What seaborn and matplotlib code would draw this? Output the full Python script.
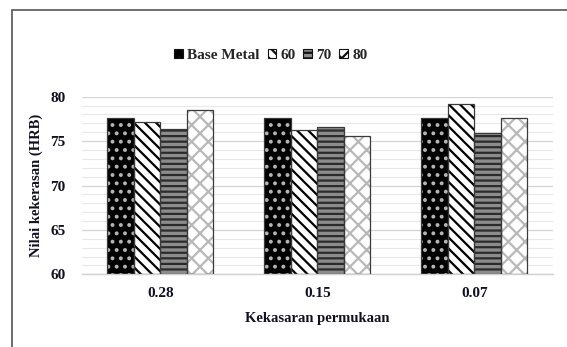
import matplotlib
matplotlib.use("Agg")
import matplotlib.pyplot as plt
from matplotlib.patches import Patch, Rectangle
from matplotlib.ticker import MultipleLocator
import seaborn as sns
import pandas as pd

# Surface roughness groups and hardness (HRB) per series
roughness = ["0.28", "0.15", "0.07"]
series = ["Base Metal", "60", "70", "80"]
base_metal = [77.6, 77.6, 77.6]
s60 = [77.2, 76.2, 79.2]
s70 = [76.4, 76.6, 75.9]
s80 = [78.5, 75.6, 77.6]

values = {"Base Metal": base_metal, "60": s60, "70": s70, "80": s80}
rows = []
for name in series:
    for r, v in zip(roughness, values[name]):
        rows.append({"Kekasaran": r, "Seri": name, "HRB": v})
df = pd.DataFrame(rows)

sns.set_style("white")
plt.rcParams["font.family"] = ["Liberation Serif", "DejaVu Serif"]
plt.rcParams["font.weight"] = "bold"
plt.rcParams["hatch.linewidth"] = 1.6

# fill colour, hatch pattern, hatch colour for each series
styles = {
    "Base Metal": ("#000000", "..", "#b5b5b5"),
    "60": ("#ffffff", "\\\\\\", "#000000"),
    "70": ("#8c8c8c", "---", "#2b2b2b"),
    "80": ("#ffffff", "xx", "#b8b8b8"),
}
text_color = "#111122"

fig = plt.figure(figsize=(5.67, 3.47), dpi=100)
ax = fig.add_axes([0.1446, 0.2095, 0.8304, 0.5118])

sns.barplot(data=df, x="Kekasaran", y="HRB", hue="Seri", order=roughness,
            hue_order=series, width=0.675, ax=ax, legend=False,
            errorbar=None)

ax.set_ylim(60, 80)
ax.yaxis.set_major_locator(MultipleLocator(5))
ax.yaxis.set_minor_locator(MultipleLocator(1))
ax.grid(which="major", axis="y", color="#d4d4d4", lw=0.9)
ax.grid(which="minor", axis="y", color="#e8e8e8", lw=0.8)
ax.set_axisbelow(True)

for name, cont in zip(series, ax.containers):
    fc, hatch, hc = styles[name]
    for bar in cont:
        top = bar.get_y() + bar.get_height()
        bar.set_y(60)
        bar.set_height(top - 60)
        bar.set_facecolor(fc)
        bar.set_hatch(hatch)
        bar.set_edgecolor(hc)
        bar.set_linewidth(0)
        ax.add_patch(Rectangle((bar.get_x(), 60), bar.get_width(), top - 60,
                               fill=False, edgecolor="#3a3a3a", lw=0.9,
                               zorder=3))

for s in ["top", "right", "left"]:
    ax.spines[s].set_visible(False)
ax.spines["bottom"].set_color("#d0d0d0")
ax.spines["bottom"].set_linewidth(1.0)

ax.tick_params(axis="both", length=0, labelsize=11, colors=text_color)
ax.tick_params(axis="y", pad=12)
ax.tick_params(axis="x", pad=9)
for lab in ax.get_xticklabels() + ax.get_yticklabels():
    lab.set_fontweight("bold")

ax.set_ylabel("Nilai kekerasan (HRB)", fontsize=10.5, fontweight="bold",
              color=text_color, labelpad=5)
ax.set_xlabel("Kekasaran permukaan", fontsize=10.5, fontweight="bold",
              color=text_color, labelpad=9)

handles = []
for name in series:
    fc, hatch, hc = styles[name]
    handles.append(Patch(facecolor=fc, edgecolor="#111111", hatch=hatch,
                         lw=0.8, label=name))
fig.legend(handles=handles, loc="center", bbox_to_anchor=(0.478, 0.84),
           ncol=4, frameon=False, handlelength=0.55,
           handleheight=0.55, handletextpad=0.3, columnspacing=0.5,
           prop={"family": "Liberation Serif", "weight": "bold", "size": 11})

# outer frame of the figure panel
fig.add_artist(Rectangle((12 / 567, -0.1), 1.2, 1 - 10 / 347 + 0.1,
                         transform=fig.transFigure, fill=False,
                         edgecolor="#555555", lw=1.2))

fig.savefig("out.png", dpi=100)
